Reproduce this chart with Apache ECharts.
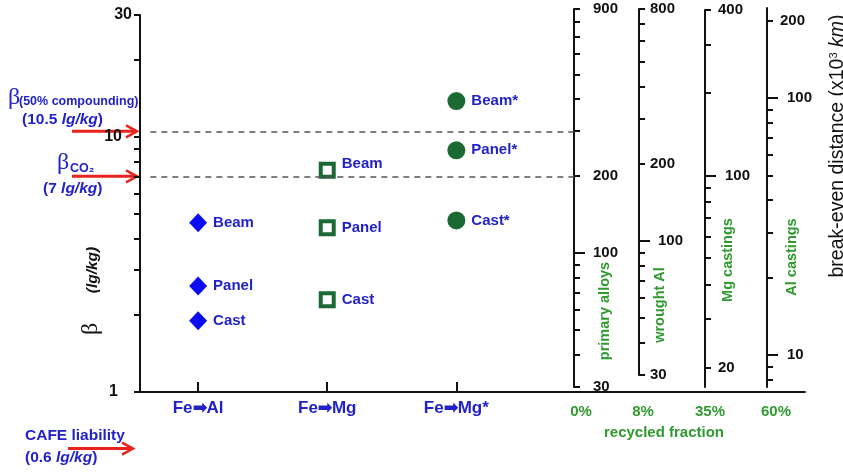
<!DOCTYPE html>
<html>
<head>
<meta charset="utf-8">
<script src="https://cdn.jsdelivr.net/npm/echarts@6/dist/echarts.min.js"></script>
<style>
  html, body { margin: 0; padding: 0; background: #ffffff; }
  #chart { width: 843px; height: 472px; }
</style>
</head>
<body>
<div id="chart"></div>
<script>
// Substitution pairs and their parts
const categories = ['Fe➡Al', 'Fe➡Mg', 'Fe➡Mg*'];
const parts = ['Beam', 'Panel', 'Cast'];

// β (lg/kg) for each part
const feAl = [4.6, 2.6, 1.9];
const feMg = [7.4, 4.4, 2.3];
const feMgStar = [13.8, 8.85, 4.7];

// β axis ticks and labels
const betaTicks = [1, 2, 3, 4, 5, 6, 7, 8, 9, 10, 20, 30];
const betaLabels = [1, 10, 30];

// Reference β levels (lg/kg)
const betaCompounding = 10.5;
const betaCO2 = 7;
const cafeLiability = 0.6;

// Break-even distance scales (x10^3 km), one per recycled fraction
const recycledFractions = ['0%', '8%', '35%', '60%'];
const alloyNames = ['primary alloys', 'wrought Al', 'Mg castings', 'Al castings'];
const distRanges = [[30, 900], [30, 800], [17, 400], [7.5, 224]];
const distMinorTicks = [
  [30, 40, 50, 60, 70, 80, 90, 200, 300, 400, 500, 600, 700, 800, 900],
  [30, 40, 50, 60, 70, 80, 90, 200, 300, 400, 500, 600, 700, 800],
  [20, 30, 40, 50, 60, 70, 80, 90, 200, 300, 400],
  [8, 9, 20, 30, 40, 50, 60, 70, 80, 90, 200]
];
const distMinorLabels = [[30, 200, 900], [30, 200, 800], [20, 400], [200]];
const distMajorTicks = [[100], [100], [100], [10, 100]];

const SANS = "'Liberation Sans', Arial, sans-serif";
const SERIF = "'Liberation Serif', 'DejaVu Serif', serif";
const BLUE = '#2222c8';
const MARK_BLUE = '#0c0cf0';
const DARK_GREEN = '#1b6a34';
const GREEN = '#2f9a2f';
const RED = '#e8231d';
const INK = '#111111';

const chart = echarts.init(document.getElementById('chart'), null, { renderer: 'canvas' });

// Layout of the four distance scales
const scaleGrids = [
  { left: 574, top: 9, bottom: 85, minorMargin: 19, majorMargin: 19 },
  { left: 639, top: 9, bottom: 97, minorMargin: 11, majorMargin: 19 },
  { left: 705, top: 10, bottom: 85, minorMargin: 13, majorMargin: 20 },
  { left: 767, top: 8, bottom: 85, minorMargin: 13, majorMargin: 20 }
];

// extra right-side gap for individual β labels
const betaLabelGap = { 1: 14, 10: 10, 30: 0 };

const grids = [{ left: 140, right: 38, top: 15, bottom: 80 }];
const xAxes = [{
  gridIndex: 0,
  type: 'value',
  min: 0.55,
  max: 5.7,
  axisLine: { show: true, lineStyle: { color: INK, width: 2 } },
  axisTick: { show: true, inside: true, length: 10, customValues: [1, 2, 3], lineStyle: { color: INK, width: 2 } },
  axisLabel: {
    customValues: [1, 2, 3],
    margin: 8,
    formatter: v => categories[Math.round(v) - 1] || '',
    color: BLUE, fontWeight: 'bold', fontSize: 17, fontFamily: SANS
  },
  splitLine: { show: false }
}];
const labelStyle = { fontWeight: 'bold', fontSize: 16, fontFamily: SANS, color: INK };
const yAxes = [{
  gridIndex: 0,
  type: 'log',
  min: 1,
  max: 30,
  axisLine: { show: true, lineStyle: { color: INK, width: 2 } },
  axisTick: { show: true, inside: false, length: 6, customValues: betaTicks, lineStyle: { color: INK, width: 2 } },
  axisLabel: Object.assign({
    customValues: betaLabels,
    margin: 8,
    formatter: v => '{g' + Math.round(v) + '|' + Math.round(v) + '}',
    rich: {
      g1: Object.assign({ padding: [0, betaLabelGap[1], 0, 0] }, labelStyle),
      g10: Object.assign({ padding: [0, betaLabelGap[10], 0, 0] }, labelStyle),
      g30: Object.assign({ padding: [0, betaLabelGap[30], 0, 0] }, labelStyle)
    }
  }, labelStyle),
  splitLine: { show: false }
}];

scaleGrids.forEach((g, i) => {
  const gi = i + 1;
  grids.push({ left: g.left, width: 30, top: g.top, bottom: g.bottom });
  xAxes.push({ gridIndex: gi, type: 'value', show: false, min: 0, max: 1 });
  const base = {
    gridIndex: gi,
    type: 'log',
    min: distRanges[i][0],
    max: distRanges[i][1],
    position: 'left',
    splitLine: { show: false }
  };
  yAxes.push(Object.assign({}, base, {
    axisLine: { show: true, lineStyle: { color: INK, width: 2 } },
    axisTick: { show: true, inside: true, length: 6, customValues: distMinorTicks[i], lineStyle: { color: INK, width: 2 } },
    axisLabel: {
      inside: true, customValues: distMinorLabels[i], margin: g.minorMargin,
      color: INK, fontWeight: 'bold', fontSize: 15, fontFamily: SANS
    }
  }));
  yAxes.push(Object.assign({}, base, {
    axisLine: { show: false },
    axisTick: { show: true, inside: true, length: 11, customValues: distMajorTicks[i], lineStyle: { color: INK, width: 2 } },
    axisLabel: {
      inside: true, customValues: distMajorTicks[i], margin: g.majorMargin,
      color: INK, fontWeight: 'bold', fontSize: 15, fontFamily: SANS
    }
  }));
});

const pointLabel = {
  show: true, position: 'right', distance: 6,
  color: BLUE, fontWeight: 'bold', fontSize: 15, fontFamily: SANS
};

const toPoints = (values, x, suffix) => values.map((v, i) => ({
  value: [x, v],
  name: parts[i] + suffix
}));

const mgPoints = toPoints(feMg, 2, '');
mgPoints[0].label = { offset: [0, -6] };

const option = {
  animation: false,
  backgroundColor: '#ffffff',
  grid: grids,
  xAxis: xAxes,
  yAxis: yAxes,
  series: [
    {
      name: categories[0], type: 'scatter', xAxisIndex: 0, yAxisIndex: 0,
      symbol: 'diamond', symbolSize: [18, 19],
      itemStyle: { color: MARK_BLUE, opacity: 1 },
      label: Object.assign({ formatter: p => p.name }, pointLabel),
      data: toPoints(feAl, 1, ''),
      markLine: {
        silent: true, symbol: 'none',
        label: { show: false },
        lineStyle: { color: '#555555', width: 1.5, type: [6, 5] },
        data: [
          [{ coord: [0.63, betaCompounding] }, { coord: [3.91, betaCompounding] }],
          [{ coord: [0.63, betaCO2] }, { coord: [3.91, betaCO2] }]
        ]
      }
    },
    {
      name: categories[1], type: 'scatter', xAxisIndex: 0, yAxisIndex: 0,
      symbol: 'rect', symbolSize: 13,
      itemStyle: { color: '#ffffff', borderColor: DARK_GREEN, borderWidth: 4, opacity: 1 },
      label: Object.assign({ formatter: p => p.name }, pointLabel),
      data: mgPoints
    },
    {
      name: categories[2], type: 'scatter', xAxisIndex: 0, yAxisIndex: 0,
      symbol: 'circle', symbolSize: 18,
      itemStyle: { color: DARK_GREEN, opacity: 1 },
      label: Object.assign({ formatter: p => p.name }, pointLabel),
      data: toPoints(feMgStar, 3, '*')
    }
  ]
};

chart.setOption(option);

// Annotations placed from the β axis scale
const yOf = v => chart.convertToPixel({ yAxisIndex: 0 }, v);
const arrow = (x0, x1, y) => ([
  { type: 'line', shape: { x1: x0, y1: y, x2: x1 - 1, y2: y }, style: { stroke: RED, lineWidth: 3 }, silent: true },
  { type: 'polyline', shape: { points: [[x1 - 11, y - 6], [x1, y], [x1 - 11, y + 6]] }, style: { stroke: RED, lineWidth: 2.5, fill: null }, silent: true }
]);
const txt = (x, y, text, font, extra) => Object.assign({
  type: 'text', x, y, silent: true,
  style: Object.assign({ text, fontFamily: SANS, fontWeight: 'bold', fontSize: 15.5, fill: BLUE, align: 'left', verticalAlign: 'middle' }, font || {})
}, extra || {});
const unitRich = {
  n: { fontFamily: SANS, fontWeight: 'bold', fontSize: 15.5, fill: BLUE },
  i: { fontFamily: SANS, fontWeight: 'bold', fontStyle: 'italic', fontSize: 15.5, fill: BLUE }
};

const yComp = yOf(betaCompounding);
const yCO2 = yOf(betaCO2);
const yCafe = yOf(cafeLiability);

const elements = [].concat(
  arrow(72, 137, yComp),
  arrow(72, 137, yCO2),
  arrow(68, 133, yCafe),
  [
    txt(14, yComp - 34, 'β', { fontFamily: SERIF, fontWeight: 'normal', fontSize: 24, align: 'center' }),
    txt(19, yComp - 30, '(50% compounding)', { fontSize: 12.5 }),
    txt(22, yComp - 12, '{n|(10.5 }{i|lg/kg}{n|)}', { rich: unitRich }),
    txt(63, yCO2 - 14, 'β', { fontFamily: SERIF, fontWeight: 'normal', fontSize: 24, align: 'center' }),
    txt(70, yCO2 - 8, 'CO₂', { fontSize: 12.5 }),
    txt(43, yCO2 + 12, '{n|(7 }{i|lg/kg}{n|)}', { rich: unitRich }),
    txt(25, yCafe - 13, 'CAFE liability'),
    txt(25, yCafe + 9, '{n|(0.6 }{i|lg/kg}{n|)}', { rich: unitRich }),
    // β axis title
    txt(91, 329, 'β', { fontFamily: SERIF, fontWeight: 'normal', fontSize: 24, fill: INK, align: 'center' }, { rotation: Math.PI / 2 }),
    txt(93, 270, '(lg/kg)', { fontStyle: 'italic', fontSize: 15.5, fill: INK, align: 'center' }, { rotation: Math.PI / 2 }),
    // distance axis title
    {
      type: 'text', x: 838, y: 146, rotation: Math.PI / 2, silent: true,
      style: {
        text: '{n|break-even distance (x10}{s|3}{n| }{i|km}{n|)}',
        align: 'center', verticalAlign: 'middle',
        rich: {
          n: { fontFamily: SANS, fontSize: 19.5, fill: INK },
          s: { fontFamily: SANS, fontSize: 11, fill: INK, verticalAlign: 'top' },
          i: { fontFamily: SANS, fontSize: 19.5, fontStyle: 'italic', fill: INK }
        }
      }
    },
    txt(664, 433, 'recycled fraction', { fontSize: 15, fill: GREEN, align: 'center' })
  ]
);

const nameSpots = [[605, 311], [660, 305], [728, 260], [792, 257]];
const pctSpots = [581, 643, 710, 776];
alloyNames.forEach((n, i) => {
  elements.push(txt(nameSpots[i][0], nameSpots[i][1], n, { fontSize: 14.5, fill: GREEN, align: 'center' }, { rotation: Math.PI / 2 }));
  elements.push(txt(pctSpots[i], 412, recycledFractions[i], { fontSize: 15, fill: GREEN, align: 'center' }));
});

chart.setOption({ graphic: { elements } });
</script>
</body>
</html>
